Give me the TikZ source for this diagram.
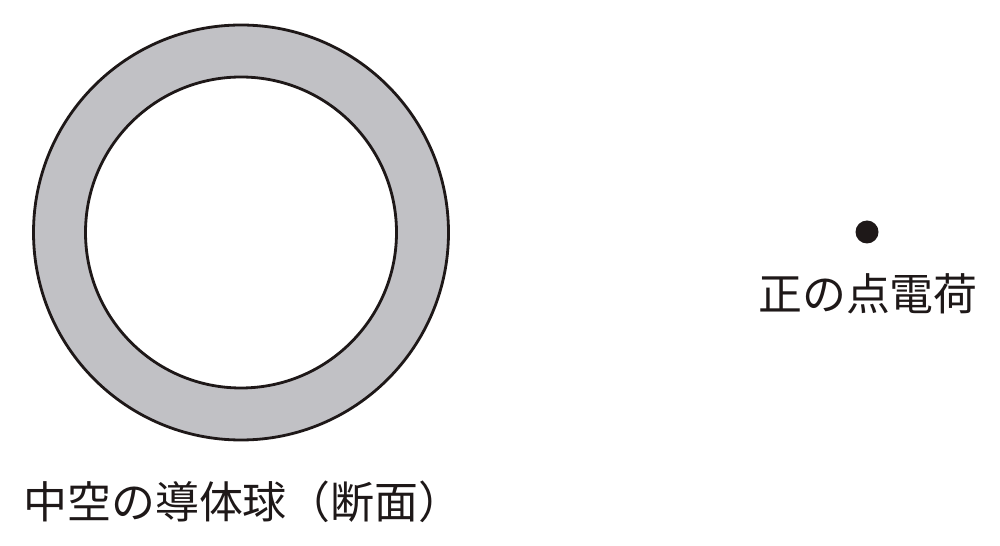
\documentclass[tikz,border=0pt]{standalone}
\usepackage{fontspec}
\usepackage{tikz}
\newfontfamily\jpfont{Noto Sans CJK JP}
\definecolor{shellgray}{RGB}{193,193,197}
\definecolor{inkblack}{RGB}{30,24,24}

\begin{document}
\begin{tikzpicture}[x=0.02cm, y=0.02cm,
	label text/.style={font=\jpfont\fontsize{25pt}{30pt}\selectfont, inner sep=0pt, text=inkblack}]
		\useasboundingbox (0,0) rectangle (1000,-546);
		\coordinate (sphere) at (241,-232.5);
		% conductor shell (cross section)
		\fill[shellgray, even odd rule] (sphere) circle (207.5) (sphere) circle (155.5);
		\draw[inkblack, line width=1.6pt] (sphere) circle (207.5);
		\draw[inkblack, line width=1.6pt] (sphere) circle (155.5);
		\node[label text, anchor=west] (spherelabel) at (23,-502) {中空の導体球（断面）};
		% point charge
		\node[circle, fill=inkblack, inner sep=0pt, minimum size=0.46cm] (charge) at (867,-232) {};
		\node[label text] (chargelabel) at (868,-294) {正の点電荷};
		\end{tikzpicture}
\end{document}
